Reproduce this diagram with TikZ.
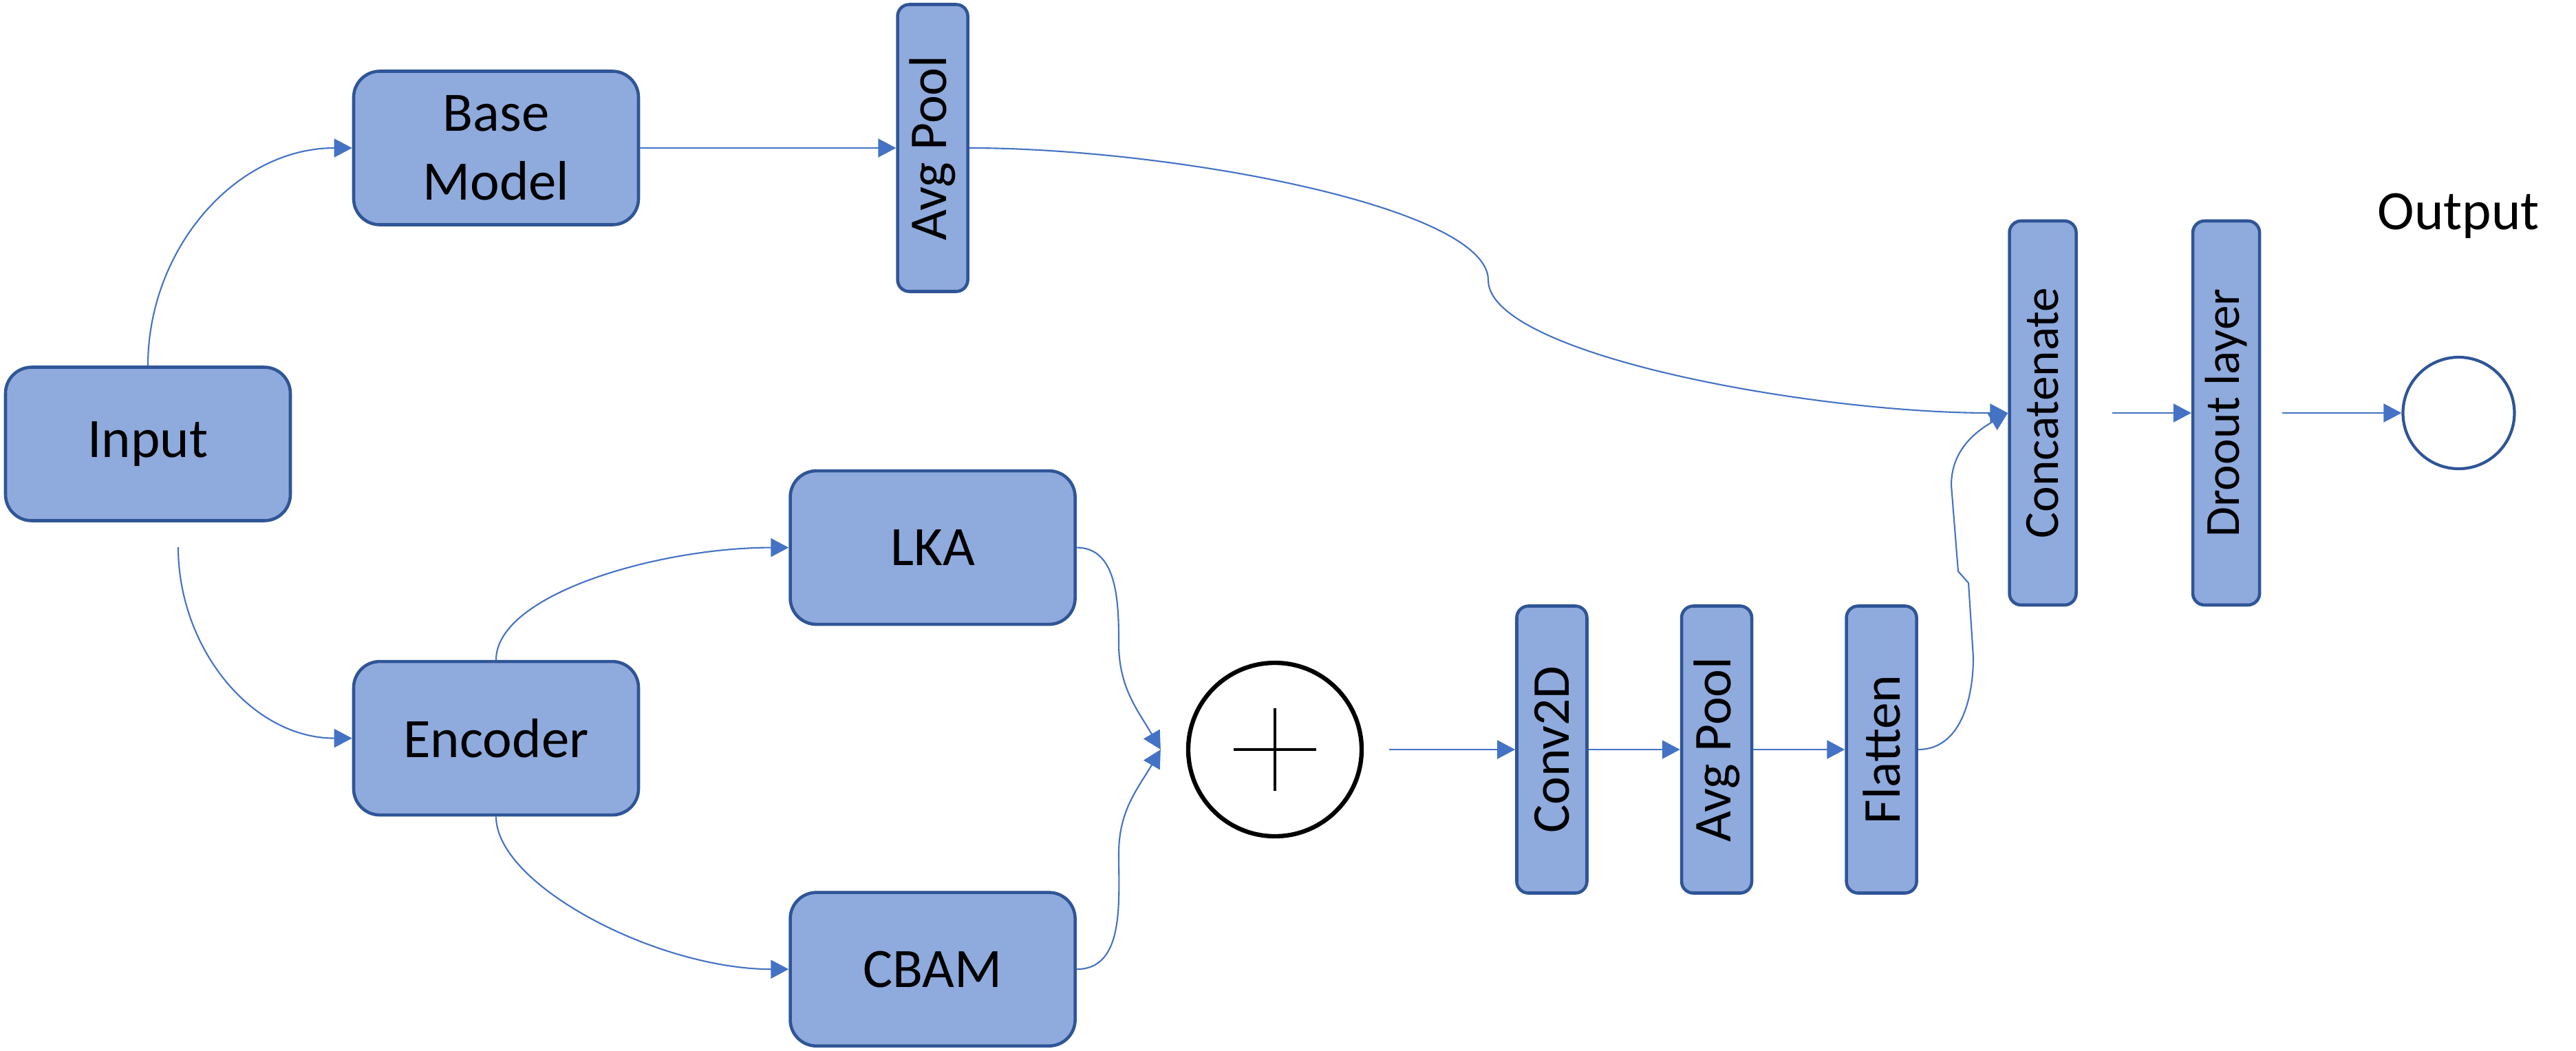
\documentclass[tikz,border=0pt]{standalone}
\usepackage{fontspec}
\setmainfont{Carlito}
\usetikzlibrary{arrows.meta,positioning,calc}
\definecolor{boxfill}{HTML}{8FAADC}
\definecolor{boxline}{HTML}{2F5597}
\definecolor{arrowblue}{HTML}{4472C4}

\begin{document}
\begin{tikzpicture}[
		node distance=1cm and 1cm,
		box/.style={draw=boxline, line width=1.3pt, fill=boxfill, rounded corners=0.38cm, minimum width=4.14cm, minimum height=2.23cm, align=center, font=\fontsize{23}{28.5}\selectfont},
		layer/.style={draw=boxline, line width=1.3pt, fill=boxfill, rounded corners=0.17cm, minimum width=1.02cm, minimum height=4.17cm, inner sep=0pt, font=\fontsize{22}{26}\selectfont},
		tall/.style={layer, minimum width=0.97cm, minimum height=5.58cm, font=\fontsize{20.3}{24}\selectfont},
		sum/.style={draw=black, line width=1.8pt, circle, minimum size=2.52cm},
		outc/.style={draw=boxline, line width=1.2pt, circle, minimum size=1.62cm},
		arr/.style={-{Triangle[length=0.26cm, width=0.27cm]}, draw=arrowblue, line width=0.6pt}
		]
		\useasboundingbox (0,0) rectangle (37.44,-15.26);
		
		\node[box] (input) at (2.15,-6.45) {Input};
		\node[box] (base) at (7.21,-2.15) {Base\\Model};
		\node[layer, right=3.72cm of base] (pool1) {\rotatebox{90}{Avg Pool}};
		
		\node[box, below=6.3cm of base] (enc) {Encoder};
		\node[box, below=2.56cm of pool1] (lka) {LKA};
		\node[box, below=3.85cm of lka] (cbam) {CBAM};
		
		\node[sum] (plus) at (18.53,-10.89) {};
		\draw[line width=1.4pt] ([xshift=-0.6cm]plus.center) -- ([xshift=0.6cm]plus.center);
		\draw[line width=1.4pt] ([yshift=-0.6cm]plus.center) -- ([yshift=0.6cm]plus.center);
		
		\node[layer, right=2.2cm of plus] (conv) {\rotatebox{90}{Conv2D}};
		\node[layer, right=1.33cm of conv] (pool2) {\rotatebox{90}{Avg Pool}};
		\node[layer, right=1.33cm of pool2] (flat) {\rotatebox{90}{Flatten}};
		
		\node[tall] (concat) at (29.69,-6.00) {\rotatebox{90}{Concatenate}};
		\node[tall, right=1.65cm of concat] (drop) {\rotatebox{90}{Droout layer}};
		\node[outc, right=2.04cm of drop] (out) {};
		\node[inner sep=0pt, font=\fontsize{23}{28.5}\selectfont, above=1.7cm of out] (outlbl) {Output};
		
		% helper points for the curved connectors
		\coordinate (inlow) at ([shift={(0.44,-0.36)}]input.south);
		\coordinate (bend) at (21.63,-4.07);
		\coordinate (sumin) at ([xshift=-0.37cm]plus.west);
		\coordinate (lkadown) at (16.26,-9.35);
		\coordinate (cbamup) at (16.26,-12.4);
		\coordinate (fk1) at (28.68,-9.55);
		\coordinate (fk2) at (28.61,-8.47);
		\coordinate (fk3) at (28.46,-8.30);
		\coordinate (fk4) at (28.36,-7.05);
		
		\draw[arr] (input.north) to[out=90, in=180] (base.west);
		\draw[arr] (base) -- (pool1);
		\draw[arr] (pool1.east) .. controls +(2.9,0) and +(0,1.07) .. (bend) .. controls +(0,-1.07) and +(-2.9,0) .. (concat.west);
		\draw[arr] (inlow) to[out=-90, in=180] (enc.west);
		\draw[arr] (enc.north) .. controls +(0,0.95) and +(-1.9,0) .. (lka.west);
		\draw[arr] (enc.south) .. controls +(0,-1.0) and +(-1.9,0) .. (cbam.west);
		\draw[arr] (lka.east) to[out=0, in=90] (lkadown) to[out=-90, in=120] (sumin);
		\draw[arr] (cbam.east) to[out=0, in=-90] (cbamup) to[out=90, in=-120] (sumin);
		\draw[arr, shorten <=0.37cm] (plus) -- (conv);
		\draw[arr] (conv) -- (pool2);
		\draw[arr] (pool2) -- (flat);
		\draw[arr] (flat.east) to[out=0, in=-90] (fk1) -- (fk2) -- (fk3) -- (fk4) to[out=90, in=-150] (concat.west);
		\draw[arr, shorten <=0.5cm] (concat) -- (drop);
		\draw[arr, shorten <=0.31cm] (drop) -- (out);
	\end{tikzpicture}
\end{document}
